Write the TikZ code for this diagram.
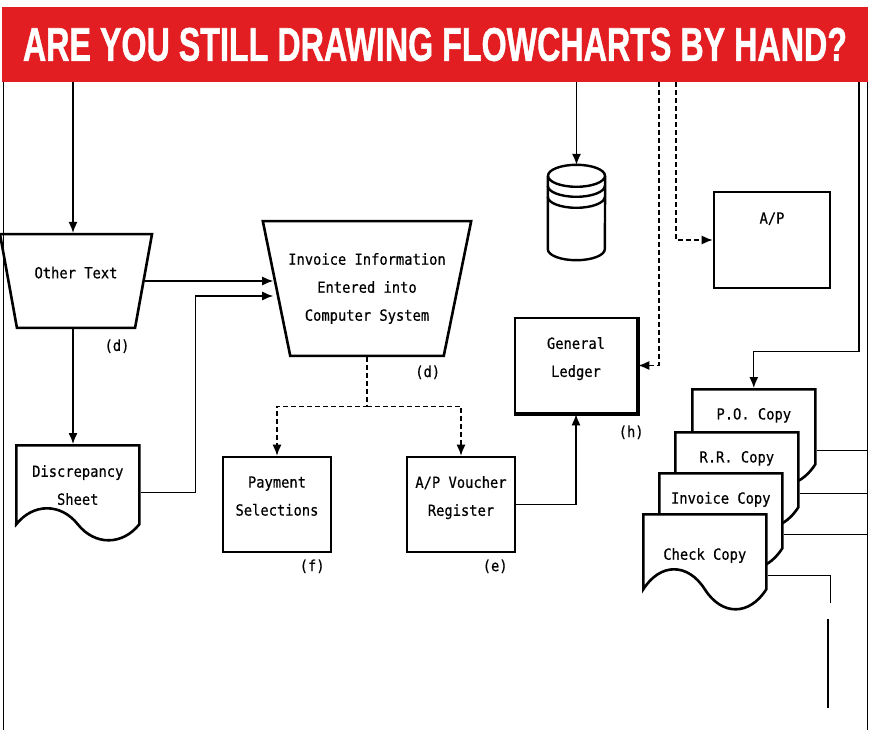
\documentclass[tikz,border=0pt]{standalone}
\usepackage{fontspec}
\usepackage{graphicx}
\usetikzlibrary{positioning,arrows.meta,shapes.geometric,shapes.symbols}
\newfontfamily\flowfont[FakeStretch=0.9,FakeBold=0.5]{DejaVu Sans Mono}
\newfontfamily\headfont[FakeBold=1.2]{Liberation Sans}
\definecolor{titlered}{RGB}{226,30,34}

\begin{document}
\begin{tikzpicture}[
    x=1pt, y=-1pt,
    node distance=8pt,
    every node/.style={font=\flowfont\fontsize{15.3}{28}\selectfont},
    titlebar/.style={
        rectangle,
        fill=titlered,
        text=white,
        minimum width=866pt,
        minimum height=75pt,
        inner sep=0pt
    },
    box/.style={
        rectangle,
        draw=black,
        line width=2.6pt,
        minimum width=108pt,
        minimum height=95pt,
        text depth=17pt,
        align=center,
        inner sep=2pt
    },
    trap/.style={
        trapezium,
        trapezium stretches body=true,
        draw=black,
        line width=2.6pt,
        align=center,
        inner xsep=2pt
    },
    doc/.style={
        tape,
        tape bend top=none,
        tape bend bottom=out and in,
        tape bend height=40pt,
        draw=black,
        fill=white,
        line width=2.6pt,
        minimum width=123pt,
        minimum height=95pt,
        align=center,
        inner sep=2pt
    },
    tag/.style={inner sep=0pt},
    arrow/.style={-{Latex[length=11pt,width=9pt]}, line width=1.3pt, black},
    dasharrow/.style={arrow, dash pattern=on 5pt off 3pt},
    wire/.style={line width=1.3pt, black},
    rimline/.style={line width=0.9pt, black}
]
\useasboundingbox (0,0) rectangle (870,730);

\node[titlebar] (title) at (435,44.5) {\resizebox{824pt}{33pt}{\headfont\bfseries ARE YOU STILL DRAWING FLOWCHARTS BY HAND?}};
\coordinate (rim) at (867,0 |- title.south);

\node[trap, trapezium left angle=100.25, trapezium right angle=100.25, minimum width=152pt, inner ysep=32.5pt, text depth=17pt] (other) at (76,281) {Other Text};
\node[trap, trapezium left angle=101.5, trapezium right angle=101.5, minimum width=208pt, inner xsep=-2pt, inner ysep=32pt] (invoice) at (367,288.5) {Invoice Information\\Entered into\\Computer System};
\node[doc, anchor=north west, tape bend height=32pt, text height=57pt, text depth=1pt] (disc) at (15,444) {Discrepancy\\Sheet};
\node[box] (pay) at (277,504.5) {Payment\\Selections};
\node[box] (voucher) at (461,504.5) {A/P Voucher\\Register};
\node[box, minimum width=122pt] (ledger) at (576,365.5) {General\\Ledger};
\node[box, minimum width=116pt, minimum height=96pt, text depth=44pt] (ap) at (772,240) {A/P};
\node[minimum width=57pt, minimum height=95pt, inner sep=0pt] (db) at (576.5,212.5) {};

% the stack of copies, back to front
\node[doc, anchor=north west, text depth=6pt] (po) at (691,388) {P.O. Copy};
\node[doc, anchor=north west, text depth=6pt] (rr) at (674,431) {R.R. Copy};
\node[doc, anchor=north west, text depth=6pt] (invcopy) at (658,472) {Invoice Copy};
\node[doc, anchor=north west, text height=39pt] (check) at (642,513) {Check Copy};

% disk
\draw[line width=2.4pt, fill=white] ([yshift=-11pt]db.north west) -- ([yshift=11pt]db.south west)
    arc[start angle=180, end angle=360, x radius=28.5pt, y radius=11pt] -- ([yshift=-11pt]db.north east);
\draw[line width=2.4pt] ([yshift=-11pt]db.north) ellipse [x radius=28.5pt, y radius=11pt];
\draw[line width=2.4pt] ([yshift=-21pt]db.north west) arc[start angle=180, end angle=360, x radius=28.5pt, y radius=11pt];
\draw[line width=2.4pt] ([yshift=-32pt]db.north west) arc[start angle=180, end angle=360, x radius=28.5pt, y radius=11pt];

% heavy edges of the ledger
\draw[line width=4pt] (ledger.north east) -- (ledger.south east) -- (ledger.south west);

\node[tag, below left=10pt and 6.5pt of other.bottom right corner] (tag other) {(d)};
\node[tag, below left=8pt and 4.5pt of invoice.bottom right corner] (tag invoice) {(d)};
\node[tag, below left=6pt and 7.5pt of pay.south east] (tag pay) {(f)};
\node[tag, below left=6pt and 8.5pt of voucher.south east] (tag voucher) {(e)};
\node[tag, below left=11pt and -5.5pt of ledger.south east] (tag ledger) {(h)};

\draw[rimline] (3,0 |- title.south) -- (3,730);
\draw[rimline] (rim) -- (867,730);

\draw[arrow] (73,0 |- title.south) -- (73,0 |- other.north);
\draw[arrow] (73,0 |- other.south) -- (73,0 |- disc.north);
\draw[arrow, shorten >=2pt] (other.east) -- (other.east -| invoice.west);
\draw[arrow, shorten >=2pt] ([yshift=-15.5pt]disc.east) -- ++(55,0) |- ([yshift=-7.5pt]invoice.west);
\draw[dasharrow] (invoice.south) -- ++(0,49) coordinate (split) -| (pay.north);
\draw[dasharrow] (split) -| (voucher.north);
\draw[arrow] (voucher.east) -| (ledger.south);
\draw[arrow] (db.north |- title.south) -- (db.north);
\draw[dasharrow] (659,0 |- title.south) |- (ledger.east);
\draw[dasharrow] (676,0 |- title.south) |- (ap.west);
\draw[arrow] (859,0 |- title.south) -- ++(0,269.5) -| (po.north);
\draw[wire] ([yshift=-33.5pt]po.east) -- ([yshift=-33.5pt]po.east -| rim);
\draw[wire] ([yshift=-33.5pt]rr.east) -- ([yshift=-33.5pt]rr.east -| rim);
\draw[wire] ([yshift=-33.5pt]invcopy.east) -- ([yshift=-33.5pt]invcopy.east -| rim);
\draw[wire] ([yshift=-33.5pt]check.east) -- ++(63,0) -- ++(0,28);
\coordinate (tail) at (828,708);
\draw[wire] (tail) -- ++(0,-89);
\end{tikzpicture}
\end{document}
